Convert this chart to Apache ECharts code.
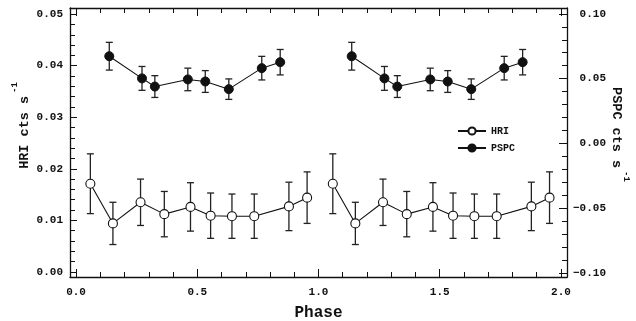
<!DOCTYPE html>
<html>
<head>
<meta charset="utf-8">
<script src="https://cdn.jsdelivr.net/npm/echarts@6/dist/echarts.min.js"></script>
<style>
  html, body { margin: 0; padding: 0; background: #fff; }
  #chart { width: 636px; height: 321px; }
</style>
</head>
<body>
<div id="chart"></div>
<script>
// phase-folded light curve, plotted over two cycles
const hriPhase = [0.059, 0.152, 0.266, 0.364, 0.472, 0.555, 0.643, 0.735, 0.878, 0.953];
const hriRate = [0.0171, 0.0094, 0.0135, 0.0112, 0.0126, 0.0109, 0.0108, 0.0108, 0.0127, 0.0144];
const hriErr = [0.0058, 0.0041, 0.0045, 0.0044, 0.0047, 0.0044, 0.0043, 0.0043, 0.0047, 0.0050];

const pspcPhase = [0.137, 0.272, 0.325, 0.461, 0.533, 0.630, 0.766, 0.842];
const pspcRate = [0.0673, 0.0502, 0.0439, 0.0494, 0.0478, 0.0419, 0.0581, 0.0627];
const pspcErr = [0.0107, 0.0092, 0.0084, 0.0087, 0.0084, 0.0079, 0.0091, 0.0098];

const cycles = [0, 1];

const xMajor = [0, 0.5, 1.0, 1.5, 2.0];
const hriMajor = [0, 0.01, 0.02, 0.03, 0.04, 0.05];
const pspcMajor = [-0.10, -0.05, 0, 0.05, 0.10];

const FONT = 'Liberation Mono';

const minorTicks = (from, to, step, majors) => {
  const out = [];
  const n = Math.round((to - from) / step);
  for (let i = 0; i <= n; i += 1) {
    const v = +(from + i * step).toFixed(4);
    if (!majors.some((m) => Math.abs(m - v) < 1e-9)) out.push(v);
  }
  return out;
};
const xMinor = minorTicks(0, 2, 0.1, xMajor);
const hriMinor = minorTicks(0, 0.05, 0.002, hriMajor);
const pspcMinor = minorTicks(-0.1, 0.1, 0.01, pspcMajor);

const fold = (phase, rate, err) => {
  const pts = [];
  const bars = [];
  cycles.forEach((c, ci) => {
    if (ci > 0) pts.push([c, '-']);
    phase.forEach((p, i) => {
      pts.push([p + c, rate[i]]);
      bars.push([p + c, rate[i], err[i]]);
    });
  });
  return { pts, bars };
};
const hri = fold(hriPhase, hriRate, hriErr);
const pspc = fold(pspcPhase, pspcRate, pspcErr);

const renderErr = (params, api) => {
  const x = api.value(0);
  const y = api.value(1);
  const e = api.value(2);
  const hi = api.coord([x, y + e]);
  const lo = api.coord([x, y - e]);
  const w = 3.5;
  const style = { stroke: '#222', lineWidth: 1.3 };
  return {
    type: 'group',
    children: [
      { type: 'line', shape: { x1: hi[0], y1: hi[1], x2: lo[0], y2: lo[1] }, style },
      { type: 'line', shape: { x1: hi[0] - w, y1: hi[1], x2: hi[0] + w, y2: hi[1] }, style },
      { type: 'line', shape: { x1: lo[0] - w, y1: lo[1], x2: lo[0] + w, y2: lo[1] }, style },
    ],
  };
};

const lineStyle = { color: '#111', width: 1.3 };
const labelStyle = { fontFamily: FONT, fontWeight: 'bold', fontSize: 11, color: '#111' };
const nameRich = {
  t: { fontFamily: FONT, fontWeight: 'bold', fontSize: 13.5, color: '#111' },
  s: { fontFamily: FONT, fontWeight: 'bold', fontSize: 9, color: '#111', padding: [0, 0, 20, 3] },
};

const tickAxis = (pos, min, max, values, length, withLine) => ({
  type: 'value',
  position: pos,
  min,
  max,
  splitLine: { show: false },
  axisLine: { show: withLine, onZero: false, lineStyle },
  axisTick: { show: true, inside: true, length, customValues: values, lineStyle: { color: '#111', width: 1 } },
  axisLabel: { show: false },
});

const xMin = -0.025, xMax = 2.025;
const hMin = -0.001, hMax = 0.0512;
const pMin = -0.103, pMax = 0.1045;

const chart = echarts.init(document.getElementById('chart'));
chart.setOption({
  animation: false,
  backgroundColor: '#fff',
  grid: { left: 70, right: 69, top: 8, bottom: 44, containLabel: false, outerBoundsMode: 'none' },
  legend: {
    orient: 'vertical',
    left: 452,
    top: 121,
    itemWidth: 28,
    itemHeight: 9,
    itemGap: 7,
    data: ['HRI', 'PSPC'],
    textStyle: { fontFamily: FONT, fontWeight: 'bold', fontSize: 10, color: '#111' },
  },
  xAxis: [
    {
      ...tickAxis('bottom', xMin, xMax, xMajor, 8, true),
      axisLabel: {
        ...labelStyle,
        margin: 10,
        customValues: xMajor,
        formatter: (v) => v.toFixed(1),
      },
      name: 'Phase',
      nameLocation: 'middle',
      nameGap: 28,
      nameMoveOverlap: false,
      nameTextStyle: { fontFamily: FONT, fontWeight: 'bold', fontSize: 16, color: '#111', verticalAlign: 'top' },
    },
    tickAxis('bottom', xMin, xMax, xMinor, 5, false),
    tickAxis('top', xMin, xMax, xMajor, 8, true),
    tickAxis('top', xMin, xMax, xMinor, 5, false),
  ],
  yAxis: [
    {
      ...tickAxis('left', hMin, hMax, hriMajor, 7, true),
      axisLabel: {
        ...labelStyle,
        margin: 7,
        customValues: hriMajor,
        formatter: (v) => v.toFixed(2),
      },
      name: '{t|HRI cts s}{s|-1}',
      nameLocation: 'middle',
      nameRotate: 90,
      nameGap: 31,
      nameMoveOverlap: false,
      nameTextStyle: { padding: [0, 0, 0, 34], rich: nameRich },
    },
    tickAxis('left', hMin, hMax, hriMinor, 5, false),
    {
      ...tickAxis('right', pMin, pMax, pspcMajor, 8, true),
      axisLabel: {
        ...labelStyle,
        margin: 39,
        align: 'right',
        customValues: pspcMajor,
        formatter: (v) => v.toFixed(2).replace('-', '\u2212'),
      },
      name: '{t|PSPC cts s}{s|-1}',
      nameLocation: 'middle',
      nameRotate: -90,
      nameGap: 35,
      nameMoveOverlap: false,
      nameTextStyle: { padding: [0, 16, 0, 0], rich: nameRich },
    },
    tickAxis('right', pMin, pMax, pspcMinor, 5, false),
  ],
  series: [
    {
      type: 'custom',
      name: 'HRI err',
      xAxisIndex: 0,
      yAxisIndex: 0,
      renderItem: renderErr,
      data: hri.bars,
      z: 1,
      silent: true,
    },
    {
      type: 'custom',
      name: 'PSPC err',
      xAxisIndex: 0,
      yAxisIndex: 2,
      renderItem: renderErr,
      data: pspc.bars,
      z: 1,
      silent: true,
    },
    {
      name: 'HRI',
      type: 'line',
      xAxisIndex: 0,
      yAxisIndex: 0,
      data: hri.pts,
      symbol: 'circle',
      symbolSize: 9,
      showAllSymbol: true,
      lineStyle: { color: '#111', width: 1.1 },
      itemStyle: { color: '#fff', borderColor: '#111', borderWidth: 1.1 },
      z: 3,
    },
    {
      name: 'PSPC',
      type: 'line',
      xAxisIndex: 0,
      yAxisIndex: 2,
      data: pspc.pts,
      symbol: 'circle',
      symbolSize: 9,
      showAllSymbol: true,
      lineStyle: { color: '#111', width: 1.1 },
      itemStyle: { color: '#111', borderColor: '#111', borderWidth: 1 },
      z: 3,
    },
  ],
});
</script>
</body>
</html>
